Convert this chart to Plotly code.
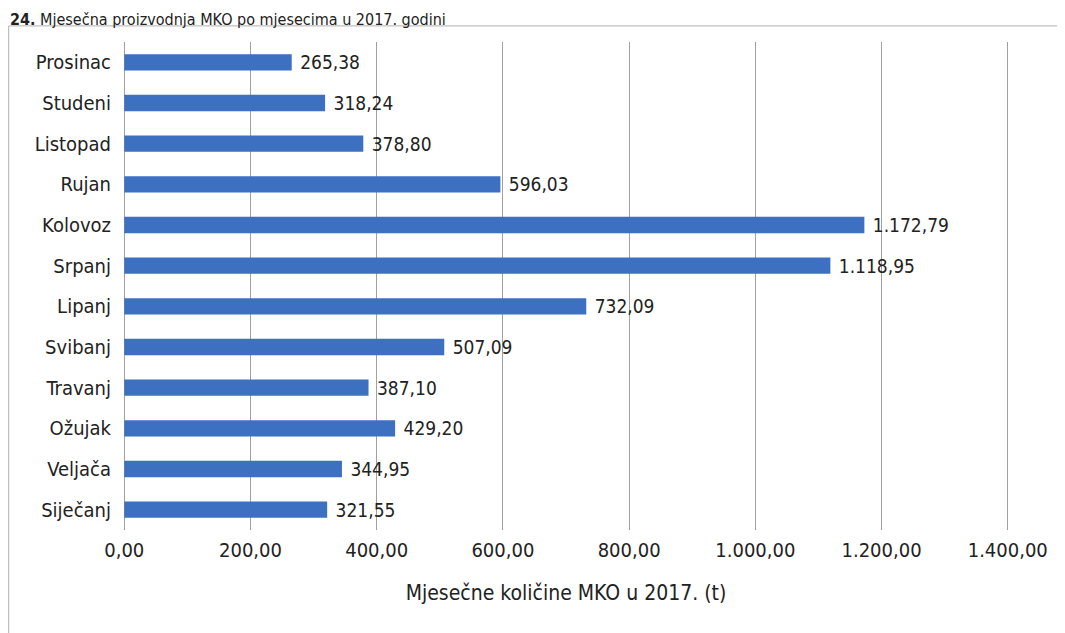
import plotly.graph_objects as go

# mjeseci (odozdo prema gore kako su na grafu)
mjeseci = ['Siječanj', 'Veljača', 'Ožujak', 'Travanj', 'Svibanj', 'Lipanj',
           'Srpanj', 'Kolovoz', 'Rujan', 'Listopad', 'Studeni', 'Prosinac']
kolicine = [321.55, 344.95, 429.20, 387.10, 507.09, 732.09,
            1118.95, 1172.79, 596.03, 378.80, 318.24, 265.38]
x_ticks = [0, 200, 400, 600, 800, 1000, 1200, 1400]

font = 'DejaVu Sans Condensed, Liberation Sans, sans-serif'

fig = go.Figure()
fig.add_trace(go.Bar(
    x=kolicine, y=mjeseci, orientation='h',
    marker=dict(color='#3d70c0', line=dict(width=0)),
    width=0.4,
    texttemplate='\u00a0%{x:,.2f}', textposition='outside',
    constraintext='none',
    textfont=dict(size=19, color='#222222', family=font),
    cliponaxis=False,
))

# stranica ima 8px ruba, pa je slika za 8px manja
# raspon malo siri od 0-1400 da se vide i rubne linije mreze
fig.update_layout(
    width=1057, height=625,
    margin=dict(l=115, r=56, t=34, b=103),
    paper_bgcolor='white', plot_bgcolor='white',
    separators=',.',
    showlegend=False,
    font=dict(family=font, size=20, color='#222222'),
    xaxis=dict(range=[-2, 1402], tickvals=x_ticks, tickformat=',.2f',
               showgrid=True, gridcolor='#a0a0a0', gridwidth=1,
               zeroline=False, showline=False, ticks='',
               ticklabelstandoff=6, automargin=False,
               tickfont=dict(size=20),
               title=dict(text='Mjesečne količine MKO u 2017. (t)',
                          font=dict(size=21), standoff=24)),
    yaxis=dict(showgrid=False, zeroline=False, showline=False, ticks='',
               ticklabelstandoff=11, range=[-0.5, 11.5], automargin=False),
    annotations=[dict(
        text='<b>24.</b> Mjesečna proizvodnja MKO po mjesecima u 2017. godini',
        xref='paper', yref='paper', x=-0.13, y=1.07,
        xanchor='left', yanchor='top', showarrow=False,
        font=dict(size=16, color='#222222', family=font))],
    shapes=[dict(type='rect', xref='paper', yref='paper',
                 x0=-0.129, x1=1.1, y0=-0.3, y1=1.033,
                 line=dict(color='#b0b0b0', width=1))],
)

fig.write_html('out.html')
